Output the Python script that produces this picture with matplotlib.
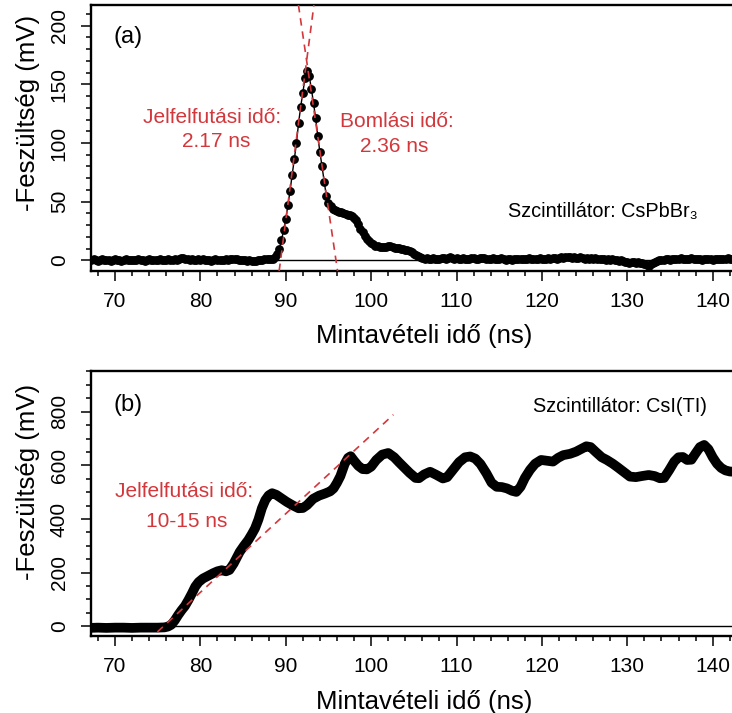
import numpy as np
import matplotlib
matplotlib.use("Agg")
import matplotlib.pyplot as plt
from matplotlib.ticker import MultipleLocator

plt.rcParams['font.family'] = ['Liberation Sans', 'DejaVu Sans']

RED = '#d2373c'

# (a) CsPbBr3 pulse, one sample every 0.25 ns starting at 67 ns (one row = 1 ns)
pulse_a = [
    [0.5, 0.0, 0.8, 0.3], [-0.2, 0.4, 0.9, 0.2], [0.0, 0.6, -0.3, 0.4],      # 67-69
    [0.7, 0.1, 0.5, -0.2], [0.3, 0.8, 0.2, 0.0], [0.6, -0.1, 0.4, 0.9],      # 70-72
    [0.2, 0.5, -0.3, 0.3], [0.7, 0.2, 0.0, 0.6], [0.3, 0.9, 0.4, 0.1],       # 73-75
    [0.5, 1.0, 0.6, 0.2], [0.8, 0.3, 1.2, 1.6], [1.9, 1.4, 0.8, 0.4],        # 76-78
    [0.9, 0.2, 0.6, 1.0], [0.4, 0.7, 0.1, 0.5], [0.2, -0.3, 0.4, 0.8],       # 79-81
    [0.3, 0.6, 0.0, 0.5], [0.9, 0.4, 0.7, 1.1], [1.5, 0.9, 0.3, 0.6],        # 82-84
    [0.2, 0.5, -0.2, 0.1], [-0.4, -0.8, -0.3, 0.2], [0.5, 0.3, 0.8, 1.0],    # 85-87
    [0.8, 1.0, 1.5, 2.5], [5, 10, 17, 26], [35, 47, 59, 73],                 # 88-90
    [86, 100, 117, 131], [143, 155, 161, 157], [146, 134, 121, 106],         # 91-93
    [92, 80, 67, 55], [49, 46, 44, 43], [42, 41.5, 41, 40],                  # 94-96
    [39.5, 39, 38.5, 37.5], [36, 34, 31, 27], [24, 21, 18.5, 16.5],          # 97-99
    [15, 13.5, 12.5, 12], [11.5, 11.0, 11.0, 11.3], [12.0, 11.8, 11.2, 10.8],  # 100-102
    [10.5, 10.2, 10.0, 9.6], [9.2, 8.8, 8.0, 7.0], [5.8, 4.5, 3.4, 2.5],     # 103-105
    [2.0, 1.5, 2.0, 1.2], [1.3, 1.9, 1.5, 1.0], [1.5, 2.1, 1.7, 1.2],        # 106-108
    [2.0, 2.9, 2.3, 1.5], [1.7, 1.1, 1.5, 1.9], [1.3, 0.8, 1.4, 1.7],        # 109-111
    [2.0, 1.5, 1.0, 1.6], [2.1, 1.8, 1.3, 0.9], [1.4, 1.9, 1.2, 0.7],        # 112-114
    [1.1, 1.6, 1.0, 0.5], [0.9, 1.4, 0.3, 0.8], [1.3, 0.7, 1.1, 1.5],        # 115-117
    [1.0, 1.4, 1.8, 1.3], [0.9, 1.5, 1.1, 1.7], [1.2, 0.7, 1.4, 1.9],        # 118-120
    [1.5, 2.1, 1.7, 1.3], [1.9, 2.4, 2.0, 2.7], [3.1, 2.5, 2.1, 2.8],        # 121-123
    [2.3, 1.8, 2.4, 1.9], [1.5, 2.0, 1.3, 1.7], [1.1, 1.6, 0.9, 1.3],        # 124-126
    [0.7, 1.2, 0.5, 0.9], [0.3, 0.8, 0.0, 0.4], [-0.3, 0.1, -0.6, -1.1],     # 127-129
    [-1.6, -2.3, -1.8, -1.4], [-2.2, -1.6, -2.0, -2.6], [-3.3, -4.3, -5.1, -3.4],  # 130-132
    [-2.2, -1.3, -0.6, -0.1], [0.5, -0.1, 0.7, 1.1], [0.6, 1.3, 0.9, 1.5],   # 133-135
    [1.1, 1.7, 1.3, 0.9], [1.5, 1.0, 1.6, 1.2], [0.8, 1.4, 1.0, 0.6],        # 136-138
    [1.2, 0.7, 1.3, 0.9], [0.5, 1.1, 1.5, 0.8], [1.3, 0.7, 1.2, 1.6],        # 139-141
    [0.9, 1.4, 1.0, 1.2], [1.3, 0.8, 1.1, 1.5],                              # 142-143
]
mv_a = np.array(pulse_a).ravel()
ns_a = 67.0 + 0.25 * np.arange(len(mv_a))

# fitted edges of the CsPbBr3 pulse: zero crossing (ns) and slope (mV/ns)
rise_a = (89.39, 55.7)
decay_a = (95.88, -49.5)

# (b) CsI(Tl) pulse
ns_b = [67.0, 68.0, 69.0, 70.0, 71.0, 72.0, 73.0, 74.0, 75.0, 75.8, 76.2, 76.6,
        77.0, 77.4, 77.8, 78.2, 78.6, 79.0, 79.4, 79.8, 80.3, 80.9, 81.5, 82.0,
        82.5, 83.0, 83.4, 83.9, 84.6, 85.1, 85.6, 86.0, 86.4, 86.8, 87.2, 87.6,
        88.0, 88.4, 88.9, 89.5, 90.1, 90.8, 91.5, 92.0, 92.5, 93.2, 93.9, 94.6,
        95.2, 95.6, 96.0, 96.4, 96.9, 97.3, 97.6, 98.0, 98.5, 99.0, 99.5, 100.0,
        100.6, 101.3, 102.0, 102.7, 103.3, 103.8, 104.5, 105.2, 105.6, 106.2, 106.9, 107.6,
        108.4, 108.9, 109.6, 110.3, 111.0, 111.6, 112.2, 112.8, 113.5, 114.1, 114.7, 115.3,
        115.9, 116.5, 117.0, 117.5, 118.0, 118.6, 119.2, 119.9, 120.6, 121.3, 121.9, 122.5,
        123.3, 124.0, 124.6, 125.2, 125.7, 126.3, 127.0, 127.6, 128.3, 128.9, 129.6, 130.3,
        131.0, 131.7, 132.5, 133.2, 133.8, 134.3, 134.9, 135.5, 136.0, 136.5, 137.0, 137.5,
        138.0, 138.5, 139.0, 139.5, 140.0, 140.5, 141.0, 141.5, 142.0, 142.5, 143.0]
mv_b = [-6, -5, -6, -5, -5, -6, -5, -5, -5, -4, -1, 6,
        22, 42, 60, 76, 98, 122, 148, 165, 178, 188, 198, 205,
        209, 205, 210, 234, 277, 300, 321, 342, 365, 398, 440, 470,
        488, 496, 490, 477, 464, 451, 440, 441, 452, 475, 487, 495,
        503, 514, 535, 560, 605, 628, 634, 617, 598, 586, 585, 595,
        620, 640, 646, 630, 610, 594, 572, 553, 552, 566, 576, 565,
        551, 556, 584, 612, 630, 633, 625, 605, 570, 535, 520, 519,
        514, 505, 501, 520, 553, 583, 606, 620, 617, 614, 628, 638,
        643, 651, 661, 671, 668, 650, 630, 620, 606, 592, 575, 558,
        556, 560, 564, 560, 552, 553, 582, 614, 630, 631, 620, 621,
        645, 668, 676, 660, 630, 606, 590, 581, 577, 576, 578]

# linear fit of the CsI(Tl) leading edge: zero crossing, slope, drawn range
rise_b = (75.68, 29.3)
rise_b_range = (74.96, 102.6)

fig = plt.figure(figsize=(7.32, 7.13), dpi=100)
ax1 = fig.add_axes([0.1243, 0.6199, 0.9098, 0.3731])
ax2 = fig.add_axes([0.1243, 0.1073, 0.9098, 0.3724])

for ax in (ax1, ax2):
    ax.set_xlim(67.19, 145.18)
    ax.xaxis.set_major_locator(MultipleLocator(10))
    ax.xaxis.set_minor_locator(MultipleLocator(2))
    ax.tick_params(which='major', length=7, width=1.1, labelsize=15, pad=8)
    ax.tick_params(which='minor', length=3.6, width=1.1)
    ax.tick_params(axis='y', labelrotation=90, pad=9)
    for lbl in ax.get_yticklabels():
        lbl.set_verticalalignment('center')
    for s in ax.spines.values():
        s.set_linewidth(1.7)
    ax.axhline(0, color='black', lw=1.0, zorder=1)
    ax.set_xlabel('Mintavételi idő (ns)', fontsize=18.5)
    ax.set_ylabel('-Feszültség (mV)', fontsize=18.5)
    ax.xaxis.label.set_verticalalignment('center')
    ax.yaxis.label.set_verticalalignment('center')

# --- (a) ---
ax1.set_ylim(-9.12, 217.6)
ax1.yaxis.set_major_locator(MultipleLocator(50))
ax1.yaxis.set_minor_locator(MultipleLocator(10))
ax1.plot(ns_a, mv_a, '-o', color='black', lw=1.0, ms=5.3, zorder=3)
ax1.axline((rise_a[0], 0), slope=rise_a[1], color=RED, lw=1.2, ls=(0, (4.5, 3.5)), zorder=4)
ax1.axline((decay_a[0], 0), slope=decay_a[1], color=RED, lw=1.2, ls=(0, (4.5, 3.5)), zorder=4)
ax1.text(71.52, 190.3, '(a)', fontsize=17, ha='center', va='center')
ax1.text(81.42, 116.7, 'Jelfelfutási idő:', color=RED, fontsize=15, ha='center')
ax1.text(81.8, 96.8, '2.17 ns', color=RED, fontsize=15, ha='center')
ax1.text(103.06, 113.8, 'Bomlási idő:', color=RED, fontsize=15, ha='center')
ax1.text(102.7, 92.5, '2.36 ns', color=RED, fontsize=15, ha='center')
ax1.text(116.08, 36.6, 'Szcintillátor: CsPbBr₃', fontsize=14.3, ha='left')
ax1.xaxis.set_label_coords(0.5, -0.244)
ax1.yaxis.set_label_coords(-0.0946, 0.596)

# --- (b) ---
ax2.set_ylim(-38.0, 951.7)
ax2.yaxis.set_major_locator(MultipleLocator(200))
ax2.yaxis.set_minor_locator(MultipleLocator(50))
ax2.plot(ns_b, mv_b, color='black', lw=7, solid_joinstyle='round',
         solid_capstyle='round', zorder=3)
fit_ns = np.array(rise_b_range)
ax2.plot(fit_ns, rise_b[1] * (fit_ns - rise_b[0]), color=RED, lw=1.2,
         ls=(0, (4.5, 3.5)), zorder=4)
ax2.text(71.52, 825, '(b)', fontsize=17, ha='center', va='center')
ax2.text(78.1, 482.6, 'Jelfelfutási idő:', color=RED, fontsize=15, ha='center')
ax2.text(78.4, 370.6, '10-15 ns', color=RED, fontsize=15, ha='center')
ax2.text(118.99, 800, 'Szcintillátor: CsI(TI)', fontsize=14.3, ha='left')
ax2.xaxis.set_label_coords(0.5, -0.245)
ax2.yaxis.set_label_coords(-0.0946, 0.582)

fig.savefig('out.png', dpi=100)
